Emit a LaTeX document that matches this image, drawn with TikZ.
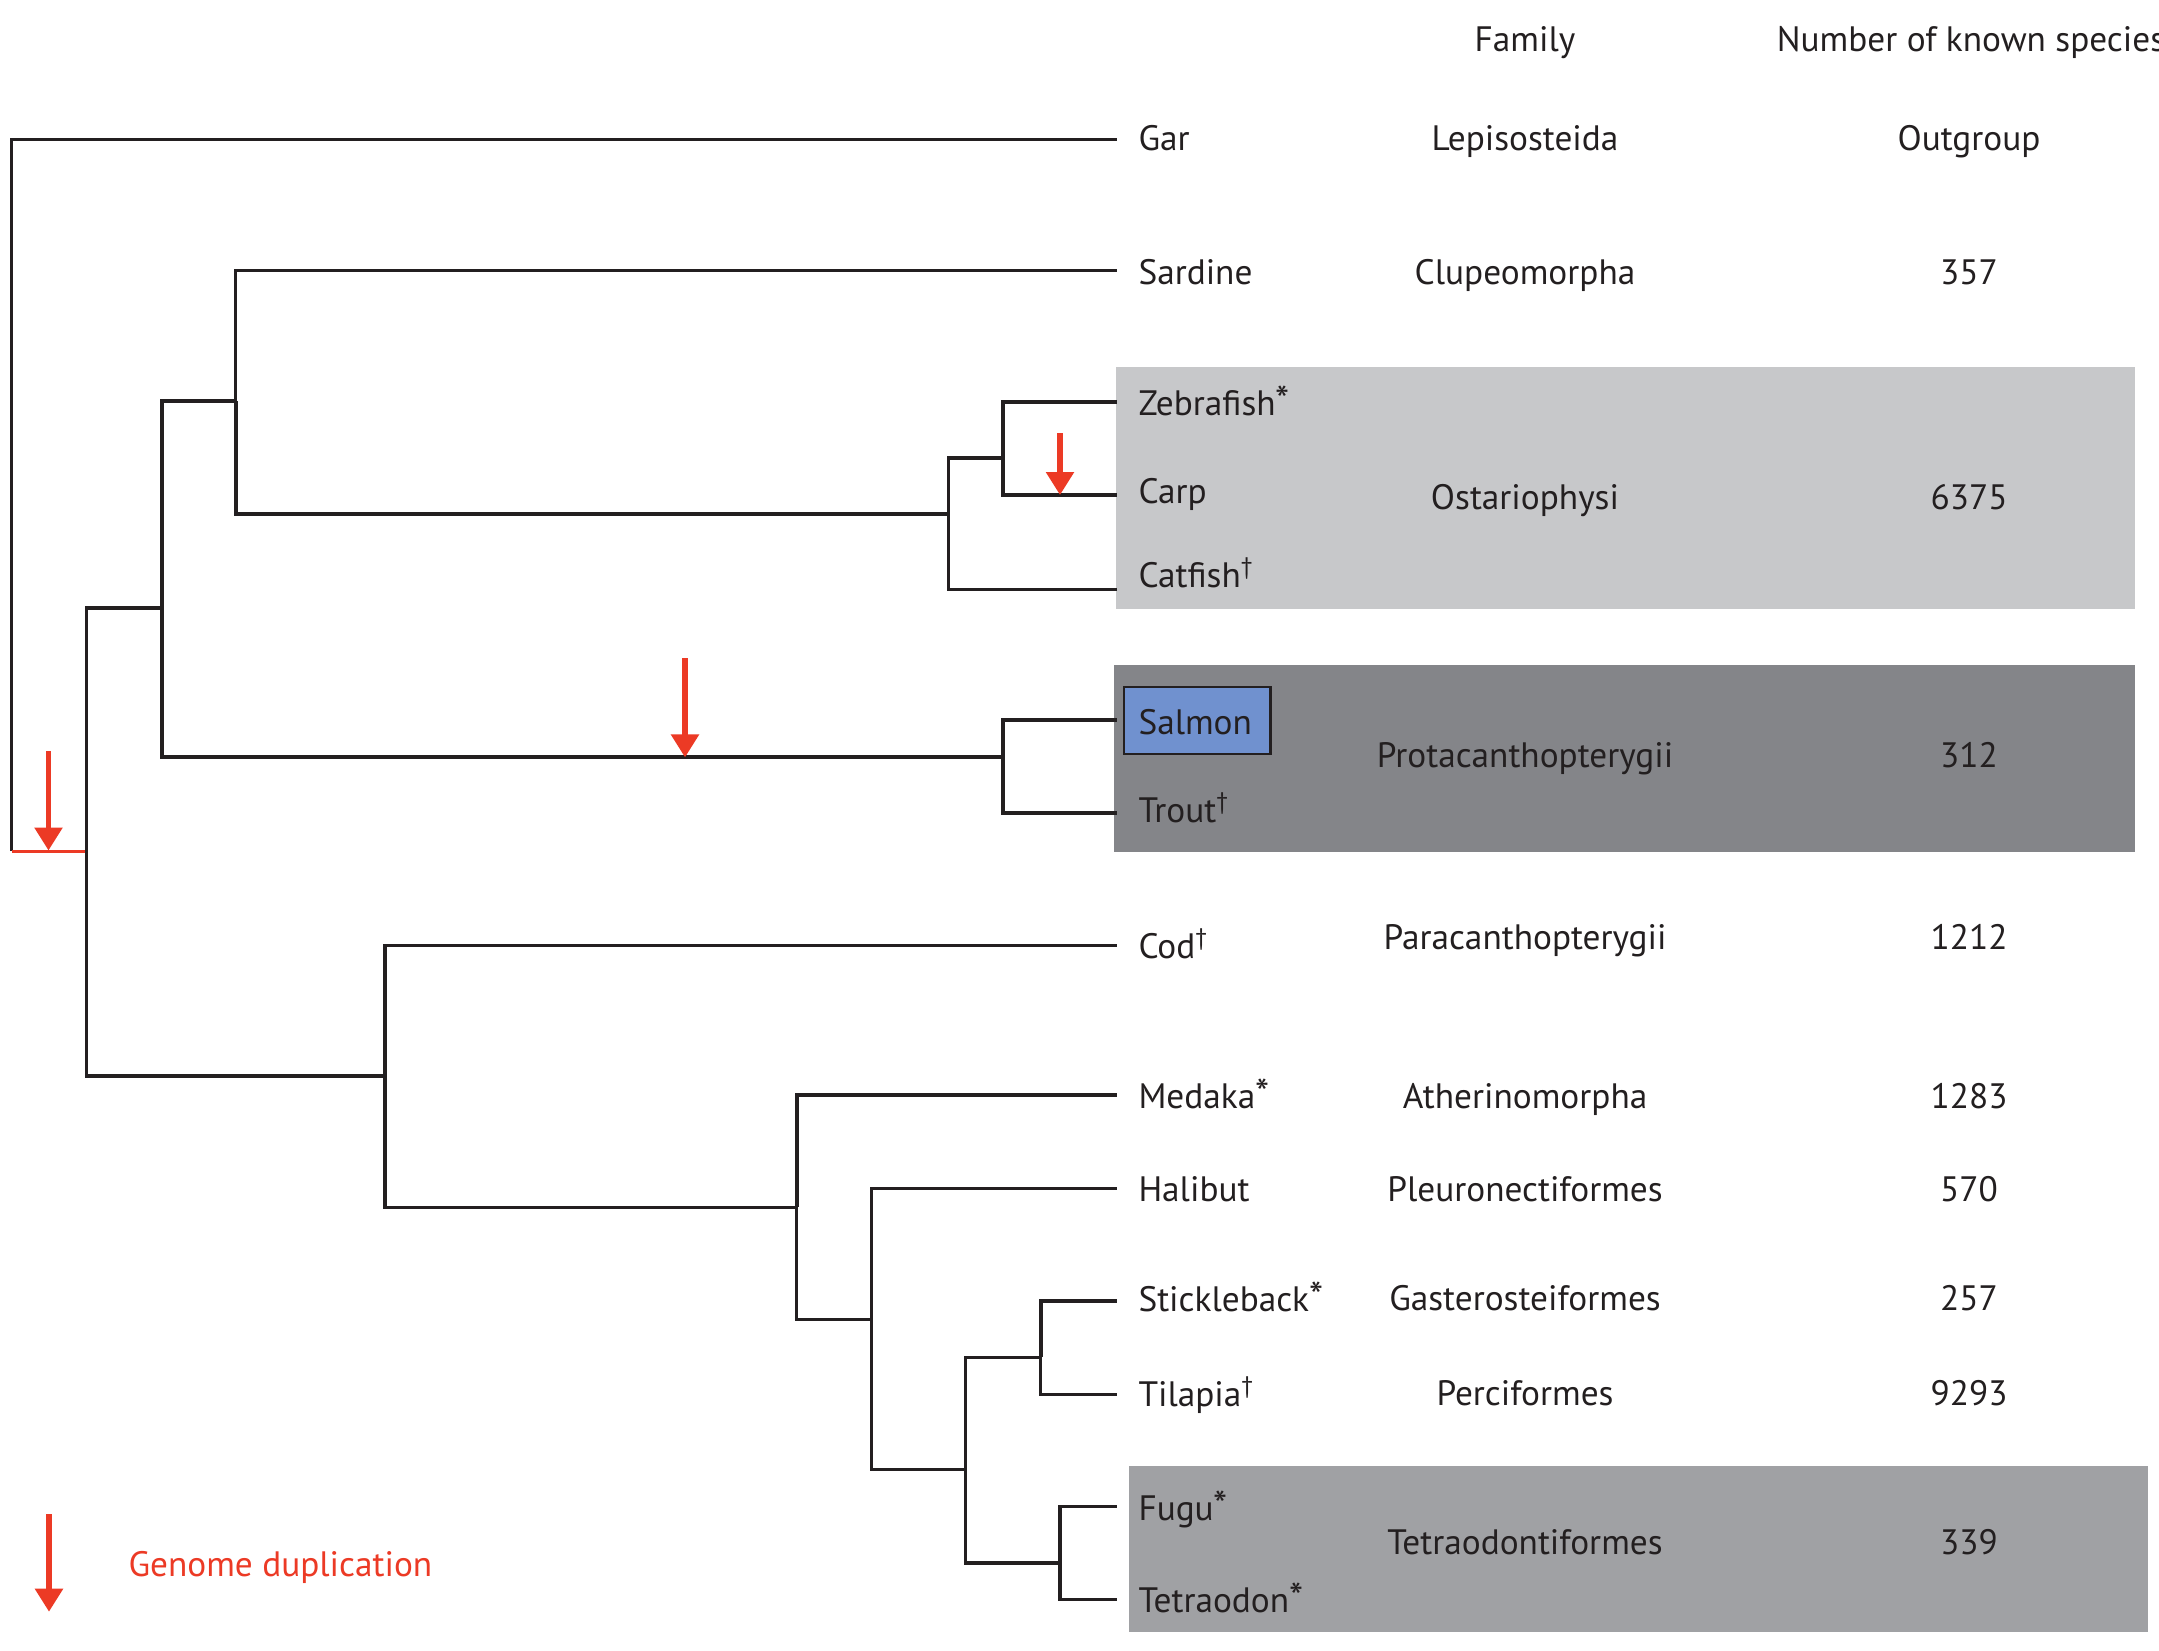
\documentclass[tikz,border=0pt]{standalone}
\usepackage{fontspec}
\setmainfont{PT Sans}
\usetikzlibrary{arrows.meta}
\definecolor{ink}{HTML}{231F20}
\definecolor{dupred}{HTML}{EC3A25}
\definecolor{boxlight}{HTML}{C7C8CA}
\definecolor{boxdark}{HTML}{848589}
\definecolor{boxmid}{HTML}{A0A1A4}
\definecolor{salmonblue}{HTML}{7091CF}
\newcommand\dgr{\raisebox{13pt}{\fontsize{24pt}{24pt}\selectfont †}}
\newcommand\astk{\raisebox{1pt}{\fontsize{40pt}{40pt}\selectfont *}}
\tikzset{
  txt/.style={inner sep=0pt, text=ink, font=\fontsize{35.3pt}{40pt}\selectfont},
  lbl/.style={txt, anchor=base west},
  col/.style={txt, anchor=base},
  branch/.style={draw=ink, line width=3.3pt},
  heavy/.style={draw=ink, line width=4pt},
  dup/.style={draw=dupred, line width=5.5pt, -{Triangle[width=27pt,length=23pt]}},
  band/.style={inner sep=0pt, outer sep=0pt, anchor=north west}
}
\begin{document}
\begin{tikzpicture}[x=1pt,y=-1pt]
\useasboundingbox[fill=white] (0,0) rectangle (2159,1650);

% background bands
\node[band, fill=boxlight, minimum width=1019.5pt, minimum height=241.6pt] (ostband) at (1115.8,366.9) {};
\node[band, fill=boxdark, minimum width=1021.3pt, minimum height=187pt] (protband) at (1114,664.5) {};
\node[band, fill=boxmid, minimum width=1018.6pt, minimum height=165.8pt] (tetband) at (1129.4,1465.9) {};
\node[band, fill=salmonblue, draw=ink, line width=2.3pt, minimum width=146.7pt, minimum height=66.7pt] (salbox) at (1123.85,687.15) {};

% internal nodes
\coordinate (root) at (11.5,851.1);
\coordinate (A) at (86.5,851.1);
\coordinate (B) at (161.5,608.1);
\coordinate (C) at (235.7,401.3);
\coordinate (O) at (948.2,514.4);
\coordinate (ZC) at (1003.3,458.1);
\coordinate (S) at (1003.3,757.4);
\coordinate (K) at (385,1076.1);
\coordinate (M) at (796.7,1207.4);
\coordinate (H) at (871.7,1319.2);
\coordinate (P) at (965.8,1469.2);
\coordinate (ST) at (1040.8,1357.4);
\coordinate (FT) at (1060,1563);

% leaf tips
\coordinate (tgar) at (1117,139.7);
\coordinate (tsar) at (1117,270.7);
\coordinate (tzeb) at (1117,401.5);
\coordinate (tcarp) at (1117,495);
\coordinate (tcat) at (1117,589.2);
\coordinate (tsal) at (1117,720);
\coordinate (ttro) at (1117,813.3);
\coordinate (tcod) at (1117,945.5);
\coordinate (tmed) at (1117,1095);
\coordinate (thal) at (1117,1188.6);
\coordinate (tsti) at (1117,1300.5);
\coordinate (ttil) at (1117,1394.2);
\coordinate (tfug) at (1117,1506.7);
\coordinate (ttet) at (1117,1599.8);

% branches
\draw[branch, line width=2.8pt] (root) |- (tgar);
\draw[dupred, line width=2.8pt] (root) -- (A);
\draw[branch] (A) |- (B);
\draw[branch] (A) |- (K);
\draw[heavy] (B) |- (C);
\draw[heavy] (B) |- (S);
\draw[branch, line width=2.8pt] (C) |- (tsar);
\draw[heavy] (C) |- (O);
\draw[branch] (O) |- (ZC);
\draw[branch] (O) |- (tcat);
\draw[heavy] (ZC) |- (tzeb);
\draw[heavy] (ZC) |- (tcarp);
\draw[heavy] (S) |- (tsal);
\draw[heavy] (S) |- (ttro);
\draw[branch] (K) |- (tcod);
\draw[branch] (K) |- (M);
\draw[heavy] (M) |- (tmed);
\draw[branch] (M) |- (H);
\draw[branch] (H) |- (thal);
\draw[branch] (H) |- (P);
\draw[branch] (P) |- (ST);
\draw[branch] (P) |- (FT);
\draw[heavy] (ST) |- (tsti);
\draw[branch] (ST) |- (ttil);
\draw[branch] (FT) |- (tfug);
\draw[branch] (FT) |- (ttet);

% genome duplication arrows
\coordinate (d1a) at (48.5,751);
\coordinate (d1b) at (48.5,850.5);
\coordinate (d2a) at (685,658.3);
\coordinate (d2b) at (685,757.4);
\coordinate (d3a) at (1060,433.3);
\coordinate (d3b) at (1060,495);
\coordinate (d4a) at (49,1514);
\coordinate (d4b) at (49,1611.7);
\draw[dup] (d1a) -- (d1b);
\draw[dup] (d2a) -- (d2b);
\draw[dup] (d3a) -- (d3b);
\draw[dup] (d4a) -- (d4b);
\node[lbl, text=dupred] (legend) at (128.3,1576.7) {Genome duplication};

% headers
\node[col] (hfam) at (1525,51) {Family};
\node[lbl] (hnum) at (1776.7,51.7) {Number of known species};

% species labels
\node[lbl] (lgar) at (1138.3,150.5) {Gar};
\node[lbl] (lsar) at (1138.3,284.5) {Sardine};
\node[lbl] (lzeb) at (1138.3,415) {Zebrafish\astk};
\node[lbl] (lcarp) at (1138.3,503.5) {Carp};
\node[lbl] (lcat) at (1138.3,587) {Catfish\dgr};
\node[lbl] (lsal) at (1138.3,734) {Salmon};
\node[lbl] (ltro) at (1138.3,822.5) {Trout\dgr};
\node[lbl] (lcod) at (1138.3,958.5) {Cod\dgr};
\node[lbl] (lmed) at (1138.3,1108) {Medaka\astk};
\node[lbl] (lhal) at (1138.3,1201.5) {Halibut};
\node[lbl] (lsti) at (1138.3,1311) {Stickleback\astk};
\node[lbl] (ltil) at (1138.3,1406) {Tilapia\dgr};
\node[lbl] (lfug) at (1138.3,1520.5) {Fugu\astk};
\node[lbl] (ltet) at (1138.3,1612) {Tetraodon\astk};

% family column
\node[col] (fgar) at (1525,150.5) {Lepisosteida};
\node[col] (fsar) at (1525,284.5) {Clupeomorpha};
\node[col] (fost) at (1525,509.5) {Ostariophysi};
\node[col] (fpro) at (1525,767) {Protacanthopterygii};
\node[col] (fpar) at (1525,949) {Paracanthopterygii};
\node[col] (fath) at (1525,1108) {Atherinomorpha};
\node[col] (fple) at (1525,1201.5) {Pleuronectiformes};
\node[col] (fgas) at (1525,1310) {Gasterosteiformes};
\node[col] (fper) at (1525,1405) {Perciformes};
\node[col] (ftet) at (1525,1554) {Tetraodontiformes};

% number column
\node[col] (ngar) at (1969,150.5) {Outgroup};
\node[col] (nsar) at (1969,284.5) {357};
\node[col] (nost) at (1969,509.5) {6375};
\node[col] (npro) at (1969,767) {312};
\node[col] (npar) at (1969,949) {1212};
\node[col] (nath) at (1969,1108) {1283};
\node[col] (nple) at (1969,1201.5) {570};
\node[col] (ngas) at (1969,1310) {257};
\node[col] (nper) at (1969,1405) {9293};
\node[col] (ntet) at (1969,1554) {339};
\end{tikzpicture}
\end{document}
